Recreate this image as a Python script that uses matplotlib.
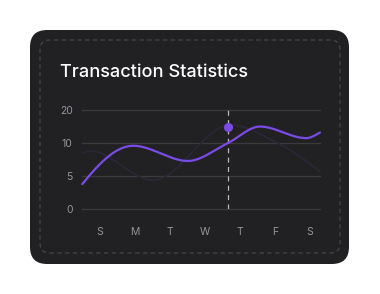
import numpy as np
import matplotlib
matplotlib.use("Agg")
import matplotlib.pyplot as plt
from matplotlib.patches import FancyBboxPatch

# ---- data ----
days = ["S", "M", "T", "W", "T", "F", "S"]
y_ticks = [0, 5, 10, 20]

# knots (x in day-index units) for the highlighted series
purple_x = [-0.505, 0.95, 2.51, 3.65, 4.57, 5.89, 6.286]
purple_y = [3.8, 9.6, 7.3, 10.0, 15.0, 11.5, 13.2]

# knots for the faint comparison series
dark_x = [-0.505, -0.28, 1.52, 3.74, 5.0, 6.286]
dark_y = [8.5, 8.8, 4.4, 15.5, 10.4, 5.7]

marker_x = 3.65
marker_y = 15.0

# ---- scale: equal spacing for 0,5,10,20 ----
def fwd(v):
    v = np.asarray(v, dtype=float)
    return np.where(v <= 10, v, 10 + (v - 10) / 2.0)

def inv(t):
    t = np.asarray(t, dtype=float)
    return np.where(t <= 10, t, 10 + (t - 10) * 2.0)

def pchip(x, y, xs):
    x = np.asarray(x, float); y = np.asarray(y, float)
    h = np.diff(x); d = np.diff(y) / h
    n = len(x)
    m = np.zeros(n)
    for k in range(1, n - 1):
        if d[k - 1] * d[k] <= 0:
            m[k] = 0
        else:
            w1 = 2 * h[k] + h[k - 1]; w2 = h[k] + 2 * h[k - 1]
            m[k] = (w1 + w2) / (w1 / d[k - 1] + w2 / d[k])
    def end(h0, h1, d0, d1):
        s = ((2 * h0 + h1) * d0 - h0 * d1) / (h0 + h1)
        if np.sign(s) != np.sign(d0):
            s = 0
        elif np.sign(d0) != np.sign(d1) and abs(s) > abs(3 * d0):
            s = 3 * d0
        return s
    m[0] = end(h[0], h[1], d[0], d[1])
    m[-1] = end(h[-1], h[-2], d[-1], d[-2])
    idx = np.clip(np.searchsorted(x, xs) - 1, 0, n - 2)
    t = (xs - x[idx]) / h[idx]
    h00 = 2 * t**3 - 3 * t**2 + 1; h10 = t**3 - 2 * t**2 + t
    h01 = -2 * t**3 + 3 * t**2; h11 = t**3 - t**2
    return h00 * y[idx] + h10 * h[idx] * m[idx] + h01 * y[idx + 1] + h11 * h[idx] * m[idx + 1]

W, H = 380, 294
fig = plt.figure(figsize=(W / 100, H / 100), dpi=100)
fig.patch.set_facecolor("white")

def fx(px): return px / W
def fy(py): return 1 - py / H

# card
card = FancyBboxPatch((fx(30), fy(264)), fx(349) - fx(30), fy(30) - fy(264),
                      boxstyle="round,pad=0,rounding_size=0.045",
                      transform=fig.transFigure, facecolor="#212123",
                      edgecolor="none", mutation_aspect=W / H, zorder=-5)
fig.patches.append(card)
border = FancyBboxPatch((fx(40), fy(253)), fx(340) - fx(40), fy(40) - fy(253),
                        boxstyle="round,pad=0,rounding_size=0.025",
                        transform=fig.transFigure, facecolor="none",
                        edgecolor="#4a4a4d", linewidth=0.8, linestyle=(0, (4, 3)),
                        mutation_aspect=W / H, zorder=-4)
fig.patches.append(border)

fig.text(fx(60.5), fy(77), "Transaction Statistics", color="white",
         fontsize=13.1, fontweight="medium", family=["Inter", "DejaVu Sans"],
         ha="left", va="baseline")

ax = fig.add_axes([fx(82.3), fy(209.3), fx(320) - fx(82.3), fy(110) - fy(209.3)])
ax.set_facecolor("none")
ax.set_zorder(2)
ax.set_yscale("function", functions=(fwd, inv))
ax.set_ylim(0, 20)
ax.set_xlim(purple_x[0], purple_x[-1])
ax.set_yticks(y_ticks)
ax.set_yticklabels([str(v) for v in y_ticks])
ax.set_xticks(range(len(days)))
ax.set_xticklabels(days)
ax.minorticks_off()
for s in ax.spines.values():
    s.set_visible(False)
ax.tick_params(length=0, colors="#95959a", labelsize=7.5)
ax.tick_params(axis="y", pad=7)
ax.tick_params(axis="x", pad=13)
for lab in ax.get_xticklabels() + ax.get_yticklabels():
    lab.set_family(["Inter", "DejaVu Sans"])
ax.grid(axis="y", color="#3b3b3e", linewidth=0.9)
ax.grid(axis="x", visible=False)
for gl in ax.get_ygridlines():
    gl.set_clip_on(False)
ax.set_axisbelow(True)

xs = np.linspace(purple_x[0], purple_x[-1], 400)
dark_s = inv(pchip(dark_x, fwd(dark_y), xs))
ax.plot(xs, dark_s, color="#2c2739", linewidth=1.1, zorder=2, clip_on=False)
purp_s = inv(pchip(purple_x, fwd(purple_y), xs))
ax.plot(xs, purp_s, color="#7a4be6", linewidth=1.6, zorder=3, clip_on=False,
        solid_capstyle="round")

ax.axvline(marker_x, color="#b9b9bc", linewidth=0.9, linestyle=(0, (4, 3.5)), zorder=2)
ax.plot([marker_x], [marker_y], "o", color="#7a4be6", markersize=5.5, zorder=4, clip_on=False)

fig.savefig("out.png", dpi=100, facecolor=fig.get_facecolor())
